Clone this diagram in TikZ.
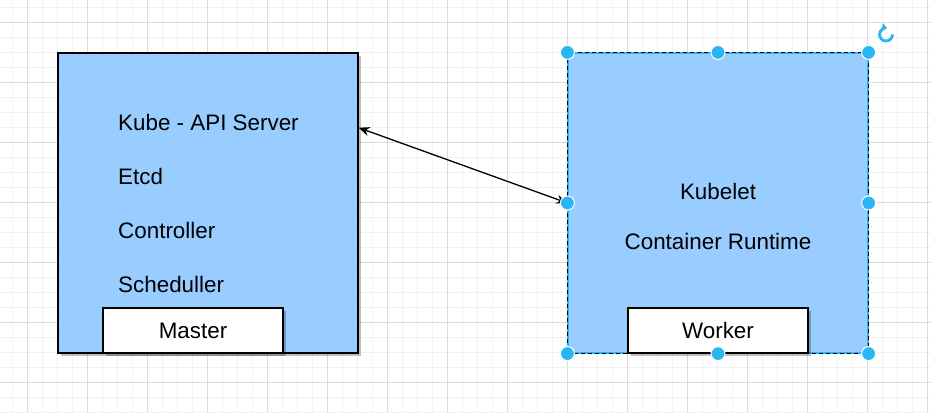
\documentclass[tikz,border=0pt]{standalone}
\usepackage{fontspec}
\setmainfont{Liberation Sans}
\usetikzlibrary{positioning,calc,arrows.meta,shadows}
\definecolor{boxblue}{HTML}{99CCFF}
\definecolor{handleblue}{HTML}{29B6F2}
\definecolor{gridminor}{HTML}{F2F2F2}
\definecolor{gridmajor}{HTML}{DCDCDC}

\begin{document}
\begin{tikzpicture}[x=1pt,y=-1pt,
		> = {Stealth[length=11pt,width=9pt,inset=3.5pt]},
		font=\fontsize{22.4}{26}\selectfont,
		shade/.style={drop shadow={shadow xshift=3pt,shadow yshift=-3pt,fill=black,opacity=0.25}},
		box/.style={draw,fill=boxblue,line width=1.2pt,minimum width=300pt,minimum height=300pt,inner sep=0pt},
		tag/.style={draw,fill=white,line width=1.2pt,minimum width=180pt,minimum height=45pt,inner sep=0pt},
		item/.style={anchor=west,inner sep=0pt},
		handle/.style={circle,fill=handleblue,draw=white,line width=1pt,minimum size=14pt,inner sep=0pt}
		]
		\useasboundingbox (0,0) rectangle (931,412);
		\fill[white] (0,0) rectangle (931,412);
		% grid
		\foreach \x in {12,27,...,927} \draw[gridminor,line width=0.8pt] (\x,0) -- (\x,412);
		\foreach \y in {7,22,...,412} \draw[gridminor,line width=0.8pt] (0,\y) -- (931,\y);
		\foreach \x in {27,87,...,927} \draw[gridmajor,line width=0.8pt] (\x,0) -- (\x,412);
		\foreach \y in {22,82,...,412} \draw[gridmajor,line width=0.8pt] (0,\y) -- (931,\y);
		
		% master node
		\node[box,shade] at (208,203) (masterbox) {};
		\node[tag,shade] at (193,330.5) (mastertag) {Master};
		\node[item] at (118,122) (apiserver) {Kube - API Server};
		\node[item] at (118,176) (etcd) {Etcd};
		\node[item] at (118,230) (controller) {Controller};
		\node[item] at (118,284) (scheduler) {Scheduller};
		
		% worker node (selected)
		\node[box,draw=handleblue] at (718,203) (workerbox) {};
		\draw[dashed,line width=1.2pt,dash pattern=on 4pt off 3pt] (workerbox.north west) rectangle (workerbox.south east);
		\node[tag,shade] at (718,330.5) (workertag) {Worker};
		\node at (718,191) (kubelet) {Kubelet};
		\node at (718,241) (runtime) {Container Runtime};
		
		% connection
		\coordinate (apiend) at ($(masterbox.north east)!0.25!(masterbox.south east)$);
		\draw[<->,line width=1.3pt] (apiend) -- (workerbox.west);
		
		% selection handles
		\foreach \a in {north west,north,north east,west,east,south west,south,south east}
		\node[handle] at (workerbox.\a) {};
		\draw[handleblue,line width=2.8pt,-{Triangle[length=5pt,width=8pt]}] (892.5,34.5) arc[start angle=0,end angle=-280,radius=6.5pt];
	\end{tikzpicture}
\end{document}
